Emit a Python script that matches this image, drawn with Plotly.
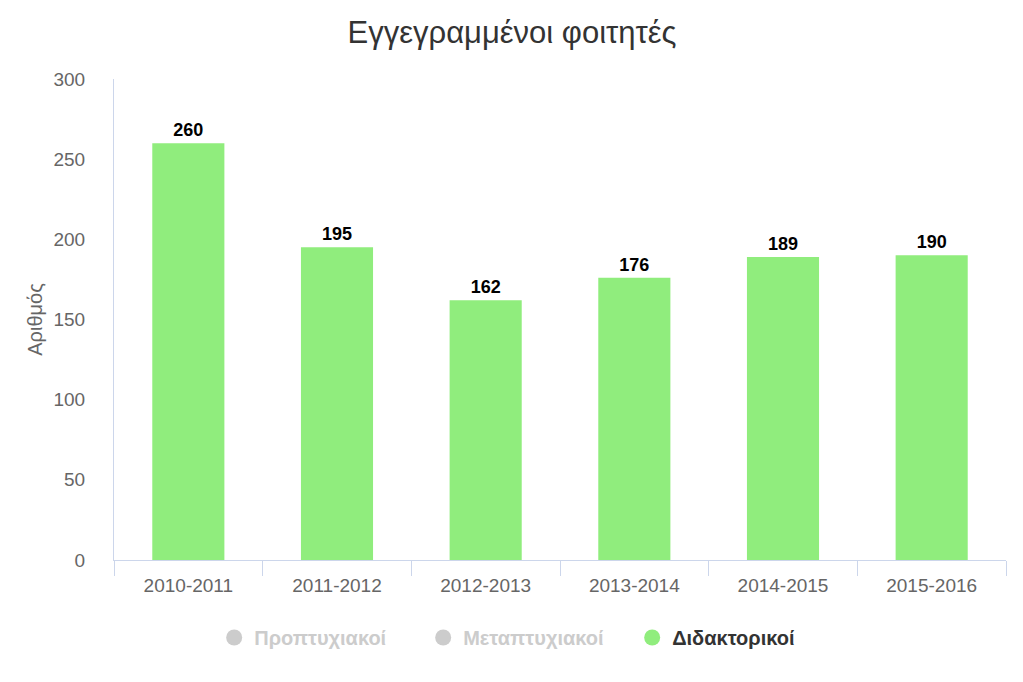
import plotly.graph_objects as go

categories = ["2010-2011", "2011-2012", "2012-2013", "2013-2014", "2014-2015", "2015-2016"]
doctoral = [260, 195, 162, 176, 189, 190]
series_names = ["Προπτυχιακοί", "Μεταπτυχιακοί", "Διδακτορικοί"]
title_text = "Εγγεγραμμένοι φοιτητές"
y_title = "Αριθμός"
y_ticks = [0, 50, 100, 150, 200, 250, 300]

FONT = "Liberation Sans, Arial, sans-serif"
GREEN = "#90ed7d"
AXIS = "#ccd6eb"

fig = go.Figure()

fig.add_trace(go.Bar(
    x=categories, y=doctoral, name=series_names[2],
    marker=dict(color=GREEN, line=dict(width=0)),
    text=[str(v) for v in doctoral], textposition="outside",
    textfont=dict(family=FONT, size=18, color="#000000", weight="bold"),
    cliponaxis=False, showlegend=False, legendgroup="d",
    hoverinfo="x+y",
))

# legend proxies (hidden series in gray, active one in green)
for nm, col, txt in [(series_names[0], "#cccccc", "#cccccc"),
                     (series_names[1], "#cccccc", "#cccccc"),
                     (series_names[2], GREEN, "#333333")]:
    fig.add_trace(go.Scatter(
        x=[None], y=[None], mode="markers",
        name=f"<span style='color:{txt}'>{nm}</span>",
        marker=dict(symbol="circle", size=18, color=col),
        legendgroup="d" if nm == series_names[2] else nm,
        showlegend=True, hoverinfo="skip",
    ))

fig.update_layout(
    width=1023, height=682,
    paper_bgcolor="white", plot_bgcolor="white",
    font=dict(family=FONT, color="#666666"),
    title=dict(text=title_text, x=0.4927, xanchor="center", y=0.965, yanchor="middle",
               font=dict(family=FONT, size=31, color="#333333")),
    margin=dict(l=106, r=25, t=71, b=130),
    bargap=0.515,
    showlegend=True,
    legend=dict(orientation="h", xref="container", x=0.508, xanchor="center",
                yref="container", y=0.077, yanchor="middle",
                entrywidth=164, entrywidthmode="pixels",
                font=dict(family=FONT, size=20, color="#333333", weight="bold"),
                itemsizing="trace", itemclick=False, itemdoubleclick=False),
    xaxis=dict(
        type="category", showgrid=False, showline=True, linecolor=AXIS, linewidth=1,
        ticks="outside", tickson="boundaries", ticklen=15, tickcolor=AXIS, tickwidth=1,
        ticklabelstandoff=8,
        tickfont=dict(family=FONT, size=19, color="#666666"), zeroline=False,
    ),
    yaxis=dict(
        range=[0, 300], tickvals=y_ticks, showgrid=False, zeroline=False,
        showline=True, linecolor=AXIS, linewidth=1, ticks="",
        ticklabelstandoff=24,
        tickfont=dict(family=FONT, size=19, color="#666666"),
        title=dict(text=y_title, font=dict(family=FONT, size=20, color="#666666"), standoff=5),
    ),
)

fig.write_html("out.html")
